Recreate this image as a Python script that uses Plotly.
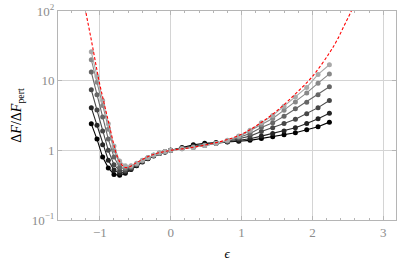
import plotly.graph_objects as go

# epsilon grid (dense on the left, coarser on the right)
eps = [-1.12, -1.04, -0.96, -0.88, -0.80, -0.72, -0.64, -0.56, -0.48, -0.40,
       -0.32, -0.24, -0.16, -0.08, 0.0,
       0.16, 0.32, 0.48, 0.64, 0.80, 0.96, 1.12, 1.28, 1.44, 1.60, 1.76,
       1.92, 2.08, 2.24]

s1 = [2.4, 1.45, 0.80, 0.56, 0.45, 0.44, 0.47, 0.53, 0.60, 0.68, 0.76, 0.83, 0.90, 0.95, 1.0,
      1.10, 1.20, 1.26, 1.30, 1.33, 1.35, 1.39, 1.48, 1.57, 1.68, 1.79, 1.97, 2.18, 2.54]
s2 = [4.1, 2.3, 1.2, 0.72, 0.52, 0.47, 0.49, 0.54, 0.61, 0.69, 0.77, 0.84, 0.90, 0.95, 1.0,
      1.08, 1.15, 1.20, 1.26, 1.32, 1.40, 1.47, 1.60, 1.75, 1.89, 2.11, 2.43, 2.83, 3.4]
s3 = [7.4, 3.8, 1.9, 1.0, 0.62, 0.51, 0.51, 0.56, 0.62, 0.70, 0.77, 0.84, 0.90, 0.95, 1.0,
      1.07, 1.13, 1.18, 1.25, 1.34, 1.47, 1.60, 1.87, 2.11, 2.43, 2.80, 3.35, 4.1, 5.2]
s4 = [13.3, 6.3, 3.0, 1.45, 0.80, 0.57, 0.54, 0.57, 0.63, 0.70, 0.78, 0.85, 0.91, 0.96, 1.0,
      1.06, 1.11, 1.17, 1.25, 1.36, 1.53, 1.75, 2.13, 2.48, 3.09, 3.94, 4.9, 6.3, 8.2]
s5 = [20.0, 9.5, 4.4, 2.0, 1.0, 0.65, 0.57, 0.59, 0.64, 0.71, 0.78, 0.85, 0.91, 0.96, 1.0,
      1.05, 1.10, 1.17, 1.25, 1.37, 1.57, 1.90, 2.35, 2.86, 3.77, 4.96, 6.67, 9.2, 12.5]
s6 = [26.0, 11.5, 5.2, 2.4, 1.15, 0.70, 0.60, 0.60, 0.65, 0.72, 0.79, 0.86, 0.92, 0.96, 1.0,
      1.05, 1.10, 1.17, 1.26, 1.39, 1.60, 1.95, 2.48, 3.16, 4.3, 5.85, 8.0, 12.3, 16.9]

series = [s1, s2, s3, s4, s5, s6]
colors = ["#000000", "#252525", "#474747", "#666666", "#888888", "#a9a9a9"]

# perturbative reference curve (red dashed)
red_eps = [-1.24, -1.20, -1.15, -1.10, -1.05, -1.00, -0.95, -0.90, -0.85, -0.80,
           -0.75, -0.70, -0.65, -0.60, -0.50, -0.40, -0.30, -0.20, -0.10, 0.0,
           0.25, 0.50, 0.75, 1.00, 1.25, 1.50, 1.75, 2.00, 2.24, 2.35, 2.45, 2.55, 2.62]
red_val = [180, 100, 55, 30, 16.0, 8.8, 5.3, 3.2, 1.95, 1.18,
           0.80, 0.64, 0.57, 0.57, 0.65, 0.74, 0.83, 0.90, 0.955, 1.0,
           1.08, 1.20, 1.38, 1.70, 2.4, 3.7, 6.3, 11.5, 25.0, 38.5, 62, 100, 140]

yticks = [0.1, 1, 10, 100]
yticktext = ["10<sup>\u22121</sup>", "1", "10", "10<sup>2</sup>"]
xticks = [-1, 0, 1, 2, 3]
xticktext = ["\u22121", "0", "1", "2", "3"]

fig = go.Figure()
for s, c in zip(series, colors):
    fig.add_trace(go.Scatter(x=eps, y=s, mode="lines+markers",
                             line=dict(color=c, width=1.1),
                             marker=dict(color=c, size=5),
                             showlegend=False))
fig.add_trace(go.Scatter(x=red_eps, y=red_val, mode="lines", line_shape="spline",
                         line=dict(color="#ff0000", width=1.1, dash="3px,2px"),
                         showlegend=False, hoverinfo="skip"))

serif = "Liberation Serif, Times New Roman, serif"
axis_common = dict(showline=True, linecolor="#b5b5b5", linewidth=1, mirror="ticks",
                   ticks="inside", tickcolor="#b5b5b5", ticklen=4,
                   showgrid=True, gridcolor="#d4d4d4", gridwidth=1,
                   zeroline=False, automargin=False,
                   tickfont=dict(family=serif, size=13, color="#8c8c8c"))

fig.update_xaxes(range=[-1.59, 3.18], tickvals=xticks, ticktext=xticktext,
                 minor=dict(dtick=0.2, ticks="inside", ticklen=2, tickcolor="#b5b5b5", showgrid=False),
                 title=dict(text="<i>\u03f5</i>", standoff=15,
                            font=dict(family=serif, size=13, color="#000000")),
                 **axis_common)
fig.update_yaxes(type="log", range=[-1, 2], tickvals=yticks, ticktext=yticktext,
                 title=dict(text="\u0394<i>F</i>/\u0394<i>F</i><sub>pert</sub>", standoff=6,
                            font=dict(family=serif, size=14, color="#000000")),
                 **axis_common)

fig.update_layout(width=407, height=261, margin=dict(l=58, r=11, t=11, b=41),
                  plot_bgcolor="white", paper_bgcolor="white")

fig.write_html("out.html", config={"displayModeBar": False},
               post_script="document.body.style.margin='0px';")
